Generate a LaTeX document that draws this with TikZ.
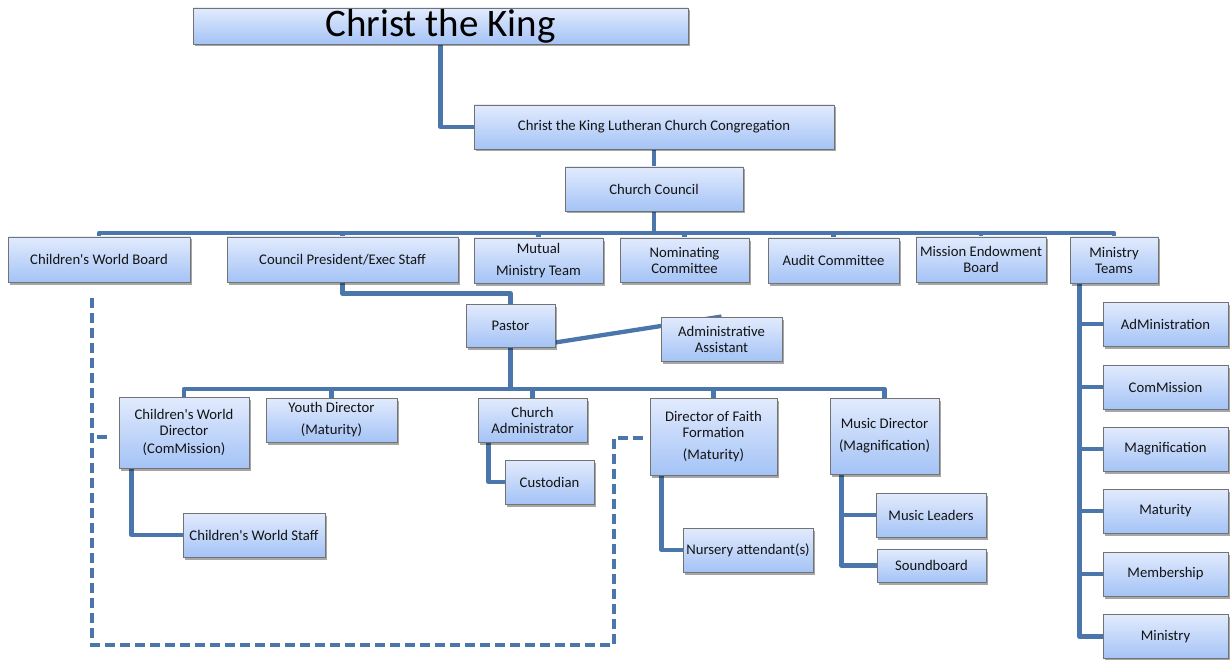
\documentclass[tikz,border=0pt]{standalone}
\usepackage{fontspec}
\setmainfont{Carlito}
\usetikzlibrary{shadows,backgrounds,calc}
\definecolor{conn}{RGB}{74,118,172}
\definecolor{boxtop}{RGB}{226,235,253}
\definecolor{boxbot}{RGB}{164,195,246}
\definecolor{boxline}{RGB}{115,115,115}
\newcommand{\ap}{\textquotesingle}
\begin{document}
\begin{tikzpicture}[x=1pt,y=-1pt,
  box/.style={draw=boxline, line width=0.9pt, top color=boxtop, bottom color=boxbot,
    inner sep=0pt, align=center, text=black!92,
    font=\fontsize{14.7}{16}\selectfont,
    drop shadow={shadow xshift=1.5pt, shadow yshift=-2.5pt, opacity=0.35, fill=black}},
  wh/.style 2 args={minimum width=#1pt, minimum height=#2pt},
  link/.style={draw=conn, line width=4.3pt, line join=round},
  dashlink/.style={draw=conn, line width=4.6pt, dash pattern=on 10pt off 5pt}]
\useasboundingbox (0,0) rectangle (1230,660);

% top
\node[box, wh={495}{36}, font=\fontsize{39}{40}\selectfont, text=black] (title) at (440.5,26) {Christ the King};
\node[box, wh={360}{44}] (cong) at (654,127) {Christ the King Lutheran Church Congregation};
\node[box, wh={178}{44}] (council) at (654,189) {Church Council};

% row 1
\node[box, wh={182}{45}] (cwb) at (99,259.5) {Children\ap s World Board};
\node[box, wh={231}{45}] (cpres) at (342.5,259.5) {Council President/Exec Staff};
\node[box, wh={129}{45}] (mmt) at (538.5,260.5) {Mutual\\[6pt]Ministry Team};
\node[box, wh={129}{44}] (nom) at (684.5,260) {Nominating\\Committee};
\node[box, wh={131}{45}] (audit) at (833.5,260.5) {Audit Committee};
\node[box, wh={130}{45}] (med) at (981,259.5) {Mission Endowment\\Board};
\node[box, wh={88}{46}] (mteams) at (1114,260) {Ministry\\Teams};

% pastor
\node[box, wh={89}{43}] (pastor) at (510.5,325.5) {Pastor};
\node[box, wh={121}{44}] (aa) at (721.5,339) {Administrative\\Assistant};

% row 2
\node[box, wh={130}{71}] (cwd) at (184,432.5) {Children\ap s World\\Director\\[2pt](ComMission)};
\node[box, wh={131}{44}] (yd) at (331.5,420) {Youth Director\\[6pt](Maturity)};
\node[box, wh={109}{44}] (ca) at (532.5,420) {Church\\Administrator};
\node[box, wh={127}{77}] (dff) at (713.5,436.5) {Director of Faith\\Formation\\[6pt](Maturity)};
\node[box, wh={109}{76}] (md) at (884.5,436) {Music Director\\[6pt](Magnification)};

% row 3
\node[box, wh={89}{44}] (cust) at (549.5,482) {Custodian};
\node[box, wh={142}{44}] (cws) at (254,535) {Children\ap s World Staff};
\node[box, wh={130}{44}] (nurs) at (748,550) {Nursery attendant(s)};
\node[box, wh={110}{44}] (ml) at (931,515) {Music Leaders};
\node[box, wh={109}{33}] (sb) at (931.5,565.5) {Soundboard};

% ministry teams column
\node[box, wh={125}{44}] (t1) at (1165.5,324) {AdMinistration};
\node[box, wh={125}{44}] (t2) at (1165.5,387) {ComMission};
\node[box, wh={125}{44}] (t3) at (1165.5,449) {Magnification};
\node[box, wh={125}{44}] (t4) at (1165.5,511) {Maturity};
\node[box, wh={125}{44}] (t5) at (1165.5,574) {Membership};
\node[box, wh={125}{44}] (t6) at (1165.5,636.5) {Ministry};

\coordinate (bus1) at (654,233);
\coordinate (bus2) at (512,389);
\coordinate (d1) at (92,298);
\coordinate (d2) at (92,645);
\coordinate (d3) at (614,645);
\coordinate (d4) at (614,438);
\coordinate (d5) at (645,438);
\coordinate (s1) at (97,437);
\coordinate (s2) at (111,437);

\begin{pgfonlayer}{background}
\fill[white] (0,0) rectangle (1230,660);
\draw[link] (title.south) |- (cong.west);
\draw[link] (cong.south) -- (council.north);
\draw[link] (council.south) -- (bus1);
\draw[link] (cwb.north) |- (mteams.north |- bus1) -- (mteams.north);
\foreach \n in {cpres,mmt,nom,audit,med} \draw[link] (\n.north) -- (\n.north |- bus1);
\draw[link] (cpres.south) -- ++(0,11) -| (pastor.north);
\draw[link] ($(pastor.south east)+(0,-5)$) -- (aa.north);
\draw[link] (pastor.south) -- (pastor.south |- bus2);
\draw[link] (cwd.north) |- (md.north |- bus2) -- (md.north);
\foreach \n in {yd,ca,dff} \draw[link] (\n.north) -- (\n.north |- bus2);
\draw[link] ($(ca.south west)+(11,0)$) |- (cust.west);
\draw[link] ($(cwd.south west)+(13,0)$) |- (cws.west);
\draw[link] ($(dff.south west)+(12,0)$) |- (nurs.west);
\draw[link] ($(md.south west)+(12,0)$) |- (sb.west);
\draw[link] (ml.west) -- ++(-34,0);
\draw[link] ($(mteams.south west)+(10,0)$) |- (t6.west);
\foreach \n in {t1,t2,t3,t4,t5} \draw[link] (\n.west) -- ++(-23,0);
\draw[dashlink] (d1) -- (d2) -- (d3) -- (d4) -- (d5);
\draw[dashlink] (s1) -- (s2);
\end{pgfonlayer}
\end{tikzpicture}
\end{document}
